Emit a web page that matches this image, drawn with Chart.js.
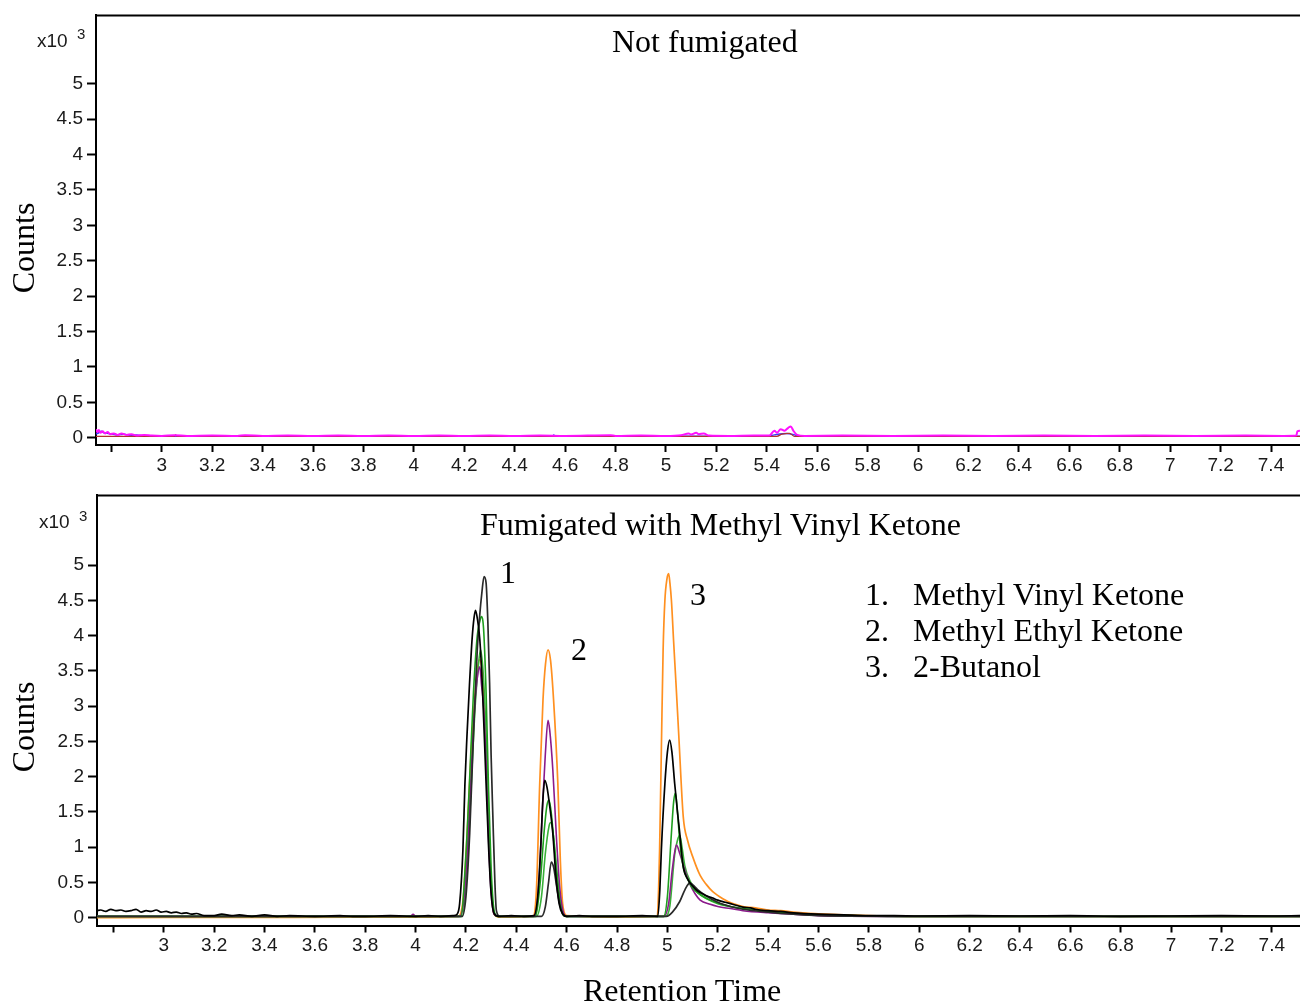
<!DOCTYPE html>
<html><head><meta charset="utf-8">
<script src="https://cdn.jsdelivr.net/npm/chart.js@4.4.1/dist/chart.umd.min.js"></script>
<style>
html,body{margin:0;padding:0;background:#fff;}
body{width:1300px;height:1006px;overflow:hidden;position:relative;}
.cw{position:absolute;left:0;width:1300px;}
.t{position:absolute;font-family:'Liberation Serif','Times New Roman',serif;font-size:32px;line-height:32px;color:#000;white-space:nowrap;}
.s{position:absolute;font-family:'Liberation Sans',Arial,sans-serif;color:#1a1a1a;white-space:nowrap;}
.rot{position:absolute;width:200px;height:32px;text-align:center;transform:rotate(-90deg);}
</style></head>
<body>
<div class="cw" style="top:0;height:480px"><canvas id="c1" width="1300" height="480"></canvas></div>
<div class="cw" style="top:480px;height:526px"><canvas id="c2" width="1300" height="526"></canvas></div>

<div class="s" style="left:37px;top:31px;font-size:19px;line-height:19px">x10</div>
<div class="s" style="left:77px;top:26px;font-size:15px;line-height:15px">3</div>
<div class="s" style="left:39px;top:512px;font-size:19px;line-height:19px">x10</div>
<div class="s" style="left:79px;top:508px;font-size:15px;line-height:15px">3</div>

<div class="t" style="left:612px;top:25px">Not fumigated</div>
<div class="t" style="left:480px;top:508px">Fumigated with Methyl Vinyl Ketone</div>
<div class="t rot" style="left:-77px;top:232px">Counts</div>
<div class="t rot" style="left:-77px;top:711px">Counts</div>
<div class="t" style="left:583px;top:974px">Retention Time</div>

<div class="t" style="left:500px;top:556px">1</div>
<div class="t" style="left:571px;top:633px">2</div>
<div class="t" style="left:690px;top:578px">3</div>

<div class="t" style="left:865px;top:578px">1.</div>
<div class="t" style="left:913px;top:578px">Methyl Vinyl Ketone</div>
<div class="t" style="left:865px;top:614px">2.</div>
<div class="t" style="left:913px;top:614px">Methyl Ethyl Ketone</div>
<div class="t" style="left:865px;top:650px">3.</div>
<div class="t" style="left:913px;top:650px">2-Butanol</div>

<script>
// ---- tick values / labels ----
const xTickValues = [2.8, 3, 3.2, 3.4, 3.6, 3.8, 4, 4.2, 4.4, 4.6, 4.8, 5, 5.2, 5.4, 5.6, 5.8, 6, 6.2, 6.4, 6.6, 6.8, 7, 7.2, 7.4];
const xTickLabels = ['', '3', '3.2', '3.4', '3.6', '3.8', '4', '4.2', '4.4', '4.6', '4.8', '5', '5.2', '5.4', '5.6', '5.8', '6', '6.2', '6.4', '6.6', '6.8', '7', '7.2', '7.4'];
const yTickValues = [0, 0.5, 1, 1.5, 2, 2.5, 3, 3.5, 4, 4.5, 5];
const yTickLabels = ['0', '0.5', '1', '1.5', '2', '2.5', '3', '3.5', '4', '4.5', '5'];

// ---- Not fumigated (retention time, counts x10^3) ----
const nfMagenta = [[2.739,0.12],[2.744,0.08],[2.75,0.11],[2.757,0.07],[2.765,0.09],[2.775,0.06],[2.785,0.08],[2.795,0.05],[2.81,0.06],[2.825,0.04],[2.84,0.06],[2.86,0.04],[2.88,0.05],[2.9,0.03],[2.93,0.04],[2.96,0.03],[3.0,0.025],[3.05,0.035],[3.1,0.025],[3.2,0.03],[3.3,0.025],[3.33,0.035],[3.4,0.025],[3.5,0.03],[3.6,0.025],[3.7,0.03],[3.8,0.025],[3.9,0.03],[4.0,0.025],[4.1,0.03],[4.2,0.025],[4.3,0.03],[4.4,0.025],[4.5,0.03],[4.6,0.025],[4.78,0.035],[4.8,0.025],[4.9,0.03],[5.0,0.025],[5.06,0.035],[5.09,0.06],[5.1,0.045],[5.12,0.07],[5.13,0.05],[5.15,0.06],[5.17,0.03],[5.25,0.025],[5.35,0.03],[5.41,0.03],[5.43,0.1],[5.44,0.07],[5.455,0.12],[5.47,0.1],[5.485,0.14],[5.495,0.16],[5.505,0.1],[5.52,0.04],[5.55,0.025],[5.7,0.03],[5.9,0.025],[6.1,0.03],[6.3,0.025],[6.5,0.03],[6.7,0.025],[6.9,0.03],[7.1,0.025],[7.3,0.03],[7.45,0.025],[7.5,0.03],[7.505,0.09],[7.515,0.1]];
const nfBlue = [[2.739,0.05],[2.75,0.07],[2.76,0.09],[2.77,0.07],[2.79,0.06],[2.82,0.04],[2.85,0.05],[2.88,0.03],[2.9,0.04],[2.93,0.02],[3.5,0.02],[4.55,0.02],[4.555,0.04],[4.56,0.02],[5.4,0.02],[5.43,0.04],[5.48,0.06],[5.51,0.04],[5.53,0.02],[6.0,0.02],[7.515,0.02]];
const nfRed = [[2.739,0.02],[3.05,0.02],[3.055,0.04],[3.06,0.02],[5.44,0.02],[5.46,0.05],[5.49,0.06],[5.51,0.02],[7.515,0.02]];

// ---- Fumigated with Methyl Vinyl Ketone ----
const fBlackA = [[2.735,0.1],[2.75,0.11],[2.77,0.09],[2.79,0.12],[2.81,0.1],[2.83,0.11],[2.85,0.09],[2.87,0.1],[2.89,0.12],[2.91,0.08],[2.93,0.1],[2.95,0.09],[2.97,0.11],[2.99,0.08],[3.01,0.09],[3.03,0.07],[3.05,0.08],[3.07,0.06],[3.09,0.07],[3.11,0.05],[3.13,0.06],[3.16,0.03],[3.2,0.03],[3.23,0.05],[3.27,0.03],[3.3,0.04],[3.35,0.02],[3.4,0.04],[3.45,0.02],[3.5,0.03],[3.6,0.02],[3.7,0.03],[3.75,0.02],[3.8,0.02],[3.9,0.03],[4.0,0.02],[4.05,0.03],[4.1,0.02],[4.15,0.03],[4.165,0.05],[4.175,0.2],[4.188,0.96],[4.196,1.9],[4.204,2.57],[4.214,3.3],[4.225,3.98],[4.232,4.25],[4.238,4.36],[4.245,4.25],[4.255,3.95],[4.265,3.3],[4.278,2.1],[4.29,1.0],[4.3,0.35],[4.312,0.06],[4.33,0.02],[4.38,0.03],[4.43,0.02],[4.47,0.03],[4.485,0.3],[4.497,1.0],[4.506,1.7],[4.513,1.95],[4.522,1.85],[4.532,1.6],[4.545,1.2],[4.557,0.6],[4.57,0.2],[4.585,0.05],[4.6,0.02],[4.65,0.03],[4.7,0.02],[4.8,0.02],[4.9,0.03],[4.962,0.02],[4.97,0.4],[4.976,0.96],[4.99,1.9],[5.0,2.35],[5.009,2.52],[5.018,2.35],[5.029,1.9],[5.04,1.5],[5.049,1.2],[5.063,0.72],[5.08,0.55],[5.1,0.45],[5.116,0.39],[5.15,0.32],[5.18,0.28],[5.2,0.25],[5.23,0.22],[5.25,0.2],[5.28,0.17],[5.3,0.15],[5.33,0.14],[5.35,0.12],[5.4,0.1],[5.45,0.09],[5.5,0.07],[5.6,0.05],[5.7,0.04],[5.8,0.03],[5.9,0.03],[6.0,0.025],[6.2,0.03],[6.4,0.025],[6.6,0.03],[6.8,0.02],[7.0,0.025],[7.2,0.03],[7.4,0.025],[7.515,0.03]];
const fBlackB = [[2.735,0.02],[3.0,0.02],[3.5,0.02],[4.0,0.02],[4.185,0.02],[4.2,0.3],[4.215,1.2],[4.23,2.6],[4.245,3.8],[4.255,4.3],[4.263,4.6],[4.272,4.84],[4.28,4.75],[4.287,4.2],[4.294,3.33],[4.3,2.3],[4.307,1.43],[4.315,0.5],[4.321,0.1],[4.335,0.02],[4.5,0.02],[4.515,0.15],[4.528,0.5],[4.539,0.79],[4.548,0.72],[4.56,0.45],[4.572,0.2],[4.585,0.05],[4.6,0.02],[4.996,0.02],[5.02,0.08],[5.049,0.23],[5.07,0.4],[5.089,0.49],[5.1,0.47],[5.12,0.4],[5.15,0.32],[5.2,0.22],[5.25,0.16],[5.3,0.12],[5.4,0.08],[5.5,0.05],[5.6,0.03],[6.0,0.02],[7.515,0.02]];
const fOrange = [[2.735,0.0],[3.0,0.005],[3.5,0.005],[4.0,0.01],[4.17,0.02],[4.19,0.3],[4.205,1.2],[4.22,2.3],[4.235,3.1],[4.245,3.5],[4.254,3.66],[4.265,3.45],[4.278,2.5],[4.29,1.3],[4.3,0.45],[4.312,0.05],[4.33,0.01],[4.466,0.02],[4.48,0.4],[4.493,1.9],[4.506,3.09],[4.516,3.6],[4.526,3.8],[4.536,3.65],[4.548,3.09],[4.565,1.9],[4.575,0.8],[4.584,0.2],[4.6,0.03],[4.8,0.01],[4.96,0.02],[4.965,0.4],[4.969,0.96],[4.976,2.38],[4.983,3.8],[4.99,4.5],[4.998,4.8],[5.005,4.88],[5.01,4.75],[5.016,4.5],[5.025,3.9],[5.034,3.33],[5.045,2.6],[5.063,1.43],[5.08,1.1],[5.1,0.87],[5.13,0.6],[5.155,0.47],[5.18,0.37],[5.22,0.27],[5.26,0.2],[5.3,0.16],[5.35,0.14],[5.4,0.11],[5.45,0.1],[5.5,0.08],[5.55,0.065],[5.6,0.055],[5.7,0.04],[5.8,0.03],[6.0,0.02],[6.5,0.02],[7.0,0.02],[7.515,0.02]];
const fPurple = [[2.735,0.02],[3.5,0.02],[3.98,0.02],[3.99,0.05],[4.0,0.02],[4.175,0.02],[4.19,0.2],[4.205,0.9],[4.22,2.0],[4.235,3.0],[4.245,3.4],[4.255,3.56],[4.262,3.3],[4.27,3.0],[4.28,2.2],[4.29,1.1],[4.3,0.35],[4.312,0.05],[4.33,0.02],[4.47,0.02],[4.49,0.5],[4.503,1.5],[4.515,2.3],[4.526,2.8],[4.533,2.65],[4.545,2.1],[4.56,1.1],[4.572,0.45],[4.585,0.1],[4.6,0.02],[4.985,0.02],[5.005,0.2],[5.02,0.7],[5.036,1.03],[5.05,0.9],[5.069,0.68],[5.089,0.48],[5.11,0.34],[5.13,0.25],[5.17,0.19],[5.2,0.16],[5.25,0.13],[5.3,0.1],[5.4,0.07],[5.5,0.05],[5.6,0.03],[6.0,0.02],[7.515,0.02]];
const fGreenA = [[2.735,0.02],[4.18,0.02],[4.2,0.9],[4.215,2.0],[4.23,3.2],[4.245,4.0],[4.255,4.2],[4.261,4.27],[4.27,4.1],[4.28,3.2],[4.29,1.8],[4.3,0.7],[4.312,0.1],[4.325,0.02],[4.475,0.02],[4.495,0.5],[4.51,1.2],[4.522,1.6],[4.53,1.67],[4.54,1.45],[4.552,0.95],[4.565,0.45],[4.58,0.1],[4.595,0.02],[4.985,0.02],[5.0,0.3],[5.016,1.2],[5.025,1.65],[5.032,1.77],[5.04,1.5],[5.05,1.05],[5.063,0.72],[5.08,0.55],[5.1,0.42],[5.13,0.33],[5.17,0.25],[5.2,0.21],[5.25,0.16],[5.3,0.13],[5.4,0.09],[5.5,0.06],[5.6,0.04],[6.0,0.02],[7.515,0.02]];
const fGreenB = [[2.735,0.02],[4.185,0.02],[4.205,0.7],[4.22,1.8],[4.235,2.9],[4.25,3.6],[4.258,3.8],[4.268,3.5],[4.28,2.6],[4.29,1.4],[4.3,0.5],[4.312,0.06],[4.33,0.02],[4.48,0.02],[4.5,0.3],[4.515,0.9],[4.53,1.3],[4.537,1.35],[4.548,1.15],[4.56,0.7],[4.572,0.3],[4.585,0.06],[4.6,0.02],[4.99,0.02],[5.009,0.15],[5.029,0.9],[5.04,1.1],[5.049,1.17],[5.058,1.0],[5.069,0.74],[5.09,0.52],[5.12,0.36],[5.16,0.26],[5.2,0.2],[5.3,0.13],[5.4,0.09],[5.5,0.06],[5.6,0.035],[6.0,0.02],[7.515,0.02]];

const tickFont = {family: "'Liberation Sans', Arial, sans-serif", size: 19};
const tickColor = '#1a1a1a';

const frameTop = {
  id: 'frameTop',
  afterDraw(chart) {
    const {ctx, chartArea: a} = chart;
    ctx.save();
    ctx.strokeStyle = '#000';
    ctx.lineWidth = 2;
    ctx.beginPath();
    ctx.moveTo(a.left - 1, a.top);
    ctx.lineTo(a.right, a.top);
    ctx.stroke();
    ctx.restore();
  }
};

function ds(arr, color, w) {
  return {data: arr.map(p => ({x: p[0], y: p[1]})), borderColor: color, borderWidth: w || 1.6,
          pointRadius: 0, fill: false, cubicInterpolationMode: 'monotone'};
}

function makeChart(id, datasets, xr, yr, padTop, yAxisW, xAxisH) {
  new Chart(document.getElementById(id), {
    type: 'line',
    data: {datasets},
    options: {
      responsive: false, animation: false, devicePixelRatio: 1,
      layout: {padding: {top: padTop, left: 0, right: 0, bottom: 0}},
      plugins: {legend: {display: false}, tooltip: {enabled: false}},
      scales: {
        x: {type: 'linear', min: xr[0], max: xr[1],
          afterBuildTicks: s => { s.ticks = xTickValues.map(v => ({value: v})); },
          afterFit: s => { s.height = xAxisH; },
          grid: {display: true, drawOnChartArea: false, drawTicks: true, tickLength: 7, tickWidth: 2, tickColor: '#000'},
          border: {display: true, color: '#000', width: 2},
          ticks: {padding: 2, autoSkip: false, maxRotation: 0, minRotation: 0, color: tickColor, font: tickFont,
                  callback: (v, i) => xTickLabels[i]}
        },
        y: {type: 'linear', min: yr[0], max: yr[1],
          afterBuildTicks: s => { s.ticks = yTickValues.map(v => ({value: v})); },
          afterFit: s => { s.width = yAxisW; },
          grid: {display: true, drawOnChartArea: false, drawTicks: true, tickLength: 9, tickWidth: 2, tickColor: '#000'},
          border: {display: true, color: '#000', width: 2},
          ticks: {padding: 4, autoSkip: false, color: tickColor, font: tickFont,
                  callback: (v, i) => yTickLabels[i]}
        }
      }
    },
    plugins: [frameTop]
  });
}

makeChart('c1', [
  ds(nfMagenta, '#ff10ff', 2),
  ds(nfRed, '#b03030', 1.3),
  ds(nfBlue, '#3a3aff', 1.5)
], [2.739, 7.515], [-0.103, 5.965], 13, 96, 35);

makeChart('c2', [
  ds(fBlackA, '#000000', 1.7),
  ds(fBlackB, '#2a2a2a', 1.7),
  ds(fGreenA, '#1e9e1e', 1.6),
  ds(fPurple, '#8b1a8b', 1.6),
  ds(fGreenB, '#38b038', 1.6),
  ds(fOrange, '#ff9020', 1.7)
], [2.735, 7.512], [-0.11, 5.99], 15, 97, 80.5);
</script>
</body></html>
